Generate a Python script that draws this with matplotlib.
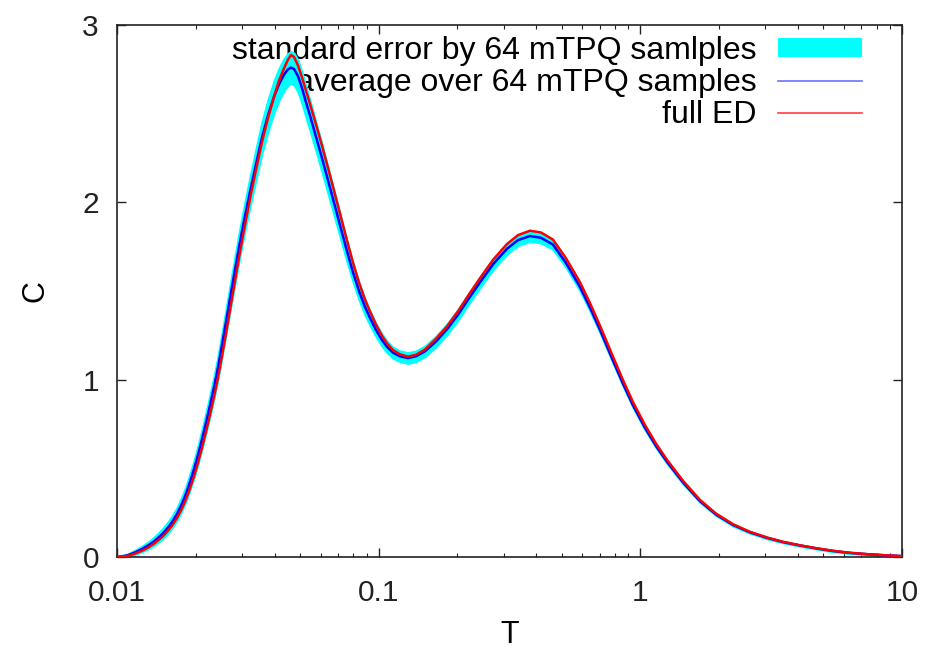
import matplotlib
matplotlib.use("Agg")
import matplotlib.pyplot as plt
from matplotlib.lines import Line2D
from matplotlib.patches import Patch
import numpy as np

# temperature grid
T = [0.01000, 0.01045, 0.01102, 0.01172, 0.01246, 0.01325, 0.01397, 0.01486,
     0.01566, 0.01623, 0.01696, 0.01756, 0.01819, 0.01884, 0.01969, 0.02039,
     0.02112, 0.02188, 0.02267, 0.02348, 0.02411, 0.02475, 0.02541, 0.02609,
     0.02679, 0.02750, 0.02824, 0.02925, 0.03030, 0.03139, 0.03251, 0.03397,
     0.03581, 0.03776, 0.03981, 0.04159, 0.04346, 0.04502, 0.04622, 0.04746,
     0.04916, 0.05092, 0.05275, 0.05464, 0.05760, 0.06072, 0.06401, 0.06808,
     0.07178, 0.07566, 0.07977, 0.08409, 0.08865, 0.09265, 0.09766, 0.1029,
     0.1076, 0.1134, 0.1206, 0.1294, 0.1388, 0.1503, 0.1655, 0.1824,
     0.2009, 0.2213, 0.2439, 0.2734, 0.3093, 0.3407, 0.3786, 0.4171,
     0.4634, 0.5196, 0.5877, 0.6419, 0.7008, 0.7859, 0.8581, 0.9369,
     1.041, 1.147, 1.264, 1.455, 1.690, 1.945, 2.259, 2.624,
     3.047, 3.507, 4.073, 4.730, 5.445, 6.323, 7.343, 8.527, 10.0]

# full ED specific heat
c_ed = [0.000, 0.002, 0.007, 0.019, 0.035, 0.056, 0.079, 0.112,
        0.148, 0.177, 0.220, 0.262, 0.312, 0.370, 0.455, 0.531,
        0.615, 0.707, 0.803, 0.903, 0.984, 1.071, 1.164, 1.260,
        1.359, 1.458, 1.557, 1.688, 1.812, 1.932, 2.048, 2.183,
        2.340, 2.475, 2.595, 2.685, 2.755, 2.805, 2.830, 2.820,
        2.772, 2.705, 2.630, 2.555, 2.440, 2.320, 2.195, 2.045,
        1.915, 1.785, 1.660, 1.547, 1.452, 1.384, 1.311, 1.248,
        1.205, 1.167, 1.143, 1.130, 1.140, 1.170, 1.230, 1.300,
        1.385, 1.480, 1.572, 1.675, 1.765, 1.815, 1.840, 1.830,
        1.790, 1.685, 1.550, 1.432, 1.305, 1.130, 0.998, 0.874,
        0.745, 0.640, 0.548, 0.430, 0.322, 0.245, 0.185, 0.142,
        0.110, 0.086, 0.066, 0.049, 0.035, 0.024, 0.016, 0.010, 0.005]

# average over 64 mTPQ samples
c_avg = [0.000, 0.003, 0.010, 0.026, 0.045, 0.068, 0.093, 0.128,
         0.166, 0.197, 0.243, 0.289, 0.342, 0.405, 0.495, 0.575,
         0.663, 0.757, 0.855, 0.957, 1.040, 1.131, 1.227, 1.325,
         1.424, 1.522, 1.618, 1.746, 1.866, 1.978, 2.085, 2.215,
         2.365, 2.490, 2.595, 2.665, 2.720, 2.750, 2.760, 2.752,
         2.712, 2.645, 2.565, 2.490, 2.370, 2.250, 2.125, 1.978,
         1.850, 1.725, 1.605, 1.500, 1.410, 1.348, 1.280, 1.224,
         1.185, 1.152, 1.132, 1.122, 1.132, 1.160, 1.215, 1.284,
         1.366, 1.459, 1.549, 1.650, 1.738, 1.787, 1.810, 1.800,
         1.762, 1.658, 1.523, 1.407, 1.282, 1.108, 0.978, 0.856,
         0.729, 0.627, 0.537, 0.421, 0.315, 0.240, 0.181, 0.139,
         0.108, 0.084, 0.065, 0.048, 0.034, 0.023, 0.016, 0.010, 0.005]

# standard error of the mTPQ average
c_err = [0.004, 0.006, 0.008, 0.012, 0.016, 0.020, 0.024, 0.028,
         0.031, 0.033, 0.036, 0.039, 0.042, 0.045, 0.048, 0.051,
         0.054, 0.057, 0.060, 0.062, 0.064, 0.066, 0.068, 0.070,
         0.072, 0.074, 0.076, 0.078, 0.080, 0.082, 0.084, 0.086,
         0.088, 0.089, 0.090, 0.090, 0.090, 0.090, 0.090, 0.090,
         0.089, 0.088, 0.086, 0.084, 0.081, 0.078, 0.074, 0.069,
         0.064, 0.059, 0.054, 0.049, 0.045, 0.041, 0.037, 0.034,
         0.032, 0.031, 0.030, 0.030, 0.030, 0.030, 0.030, 0.030,
         0.030, 0.030, 0.030, 0.030, 0.030, 0.030, 0.030, 0.029,
         0.027, 0.024, 0.021, 0.019, 0.017, 0.015, 0.013, 0.012,
         0.011, 0.010, 0.009, 0.008, 0.007, 0.006, 0.006, 0.005,
         0.005, 0.004, 0.004, 0.004, 0.004, 0.003, 0.003, 0.003, 0.003]

x_ticks = [0.01, 0.1, 1, 10]
x_labels = ["0.01", "0.1", "1", "10"]
y_ticks = [0, 1, 2, 3]

plt.rcParams['font.family'] = ['Liberation Sans', 'DejaVu Sans']
fs_tick = 21.5
fs_lab = 22
fs_leg = 23

fig = plt.figure(figsize=(9.25, 6.5), dpi=100)
ax = fig.add_axes([117/925, 1 - 557/650, (902-117)/925, (557-25)/650])

t = np.array(T)
avg = np.array(c_avg)
err = np.array(c_err)

ax.fill_between(t, avg - err, avg + err, color='#00ffff', lw=1.5,
                edgecolor='#00ffff', zorder=2)
ax.plot(t, avg, color='#0000ff', lw=1.8, zorder=3)
ax.plot(t, c_ed, color='#ff0000', lw=1.8, zorder=4)

ax.set_xscale('log')
ax.set_xlim(0.01, 10)
ax.set_ylim(0, 3)
ax.set_xticks(x_ticks)
ax.set_xticklabels(x_labels)
ax.set_yticks(y_ticks)
ax.tick_params(which='both', direction='in', top=True, right=True,
               labelsize=fs_tick, colors='#222222')
ax.tick_params(which='major', length=6.5, width=1)
ax.tick_params(which='minor', length=3, width=0.8)
ax.tick_params(axis='x', pad=16)
ax.tick_params(axis='y', pad=13)
for s in ax.spines.values():
    s.set_linewidth(1.2)
    s.set_color('#222222')

ax.set_xlabel('T', fontsize=fs_lab, labelpad=9)
ax.set_ylabel('C', fontsize=fs_lab, labelpad=23)

handles = [Patch(facecolor='#00ffff', edgecolor='none'),
           Line2D([], [], color='#7070ff', lw=1.2),
           Line2D([], [], color='#ff4040', lw=1.2)]
labels = ['standard error by 64 mTPQ samlples',
          'average over 64 mTPQ samples',
          'full ED']
leg = ax.legend(handles, labels, loc='upper right', frameon=False,
                markerfirst=False, fontsize=fs_leg, handlelength=2.63,
                handletextpad=0.66, labelspacing=0.07, borderaxespad=0.0,
                borderpad=0.0, handleheight=0.54)
leg.set_bbox_to_anchor((862/925, 1 - 36/650), transform=fig.transFigure)
leg.set_zorder(1)

fig.savefig('out.png', dpi=100)
